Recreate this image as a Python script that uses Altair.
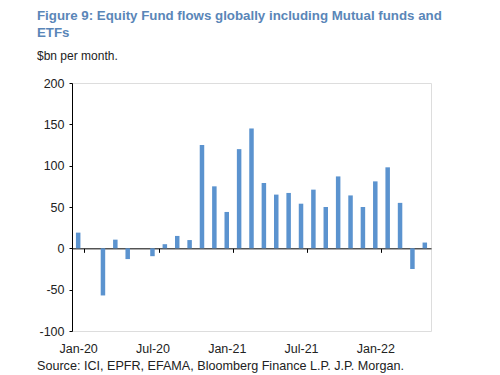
import altair as alt
import pandas as pd

months = ["Jan-20", "Feb-20", "Mar-20", "Apr-20", "May-20", "Jun-20", "Jul-20", "Aug-20",
          "Sep-20", "Oct-20", "Nov-20", "Dec-20", "Jan-21", "Feb-21", "Mar-21", "Apr-21",
          "May-21", "Jun-21", "Jul-21", "Aug-21", "Sep-21", "Oct-21", "Nov-21", "Dec-21",
          "Jan-22", "Feb-22", "Mar-22", "Apr-22", "May-22"]
flows = [19, 0, -57, 10.5, -13, 0, -9.5, 5, 15, 10, 125, 75, 44, 120, 145, 79,
         65, 67, 54, 71, 50, 87, 64, 50, 81, 98, 55, -25, 7]
label_months = ["Jan-20", "Jul-20", "Jan-21", "Jul-21", "Jan-22"]
y_ticks = [-100, -50, 0, 50, 100, 150, 200]

title_lines = ["Figure 9: Equity Fund flows globally including Mutual funds and", "ETFs"]
subtitle = "$bn per month."
source = "Source: ICI, EPFR, EFAMA, Bloomberg Finance L.P. J.P. Morgan."

df = pd.DataFrame({"month": months, "flow": flows})

FONT = "Liberation Sans, Arial, sans-serif"
W, H = 359, 248

bars = alt.Chart(df).mark_bar(size=4.5, color="#5B93CF").encode(
    x=alt.X("month:N", sort=months, scale=alt.Scale(paddingInner=0, paddingOuter=0),
            axis=alt.Axis(values=label_months, title=None, labelAngle=0,
                          domainColor="black", tickColor="black", tickSize=4,
                          tickBand="extent", offset=-(H - H * 200 / 300),
                          labelPadding=90, labelFont=FONT, labelFontSize=12.5,
                          labelColor="#222222")),
    y=alt.Y("flow:Q", scale=alt.Scale(domain=[-100, 200], nice=False),
            axis=alt.Axis(values=y_ticks, title=None, grid=False,
                          labelExpr="datum.value + ''",
                          domainColor="black", tickColor="black", tickSize=3,
                          labelPadding=5, labelFont=FONT, labelFontSize=12.5,
                          labelColor="#222222")),
)

def txt(s, x, y, size, bold=False, color="#222222"):
    return alt.Chart(pd.DataFrame({"t": [s]})).mark_text(
        align="left", baseline="alphabetic", font=FONT, fontSize=size,
        fontWeight="bold" if bold else "normal", color=color, clip=False
    ).encode(text="t:N", x=alt.value(x), y=alt.value(y))

tcol = "#5A86B8"
chart = alt.layer(
    bars,
    txt(title_lines[0], -35, -63, 13.3, True, tcol),
    txt(title_lines[1], -35, -46, 13.3, True, tcol),
    txt(subtitle, -35, -23, 12),
    txt(source, -35, 287, 12.6),
).properties(
    width=W, height=H,
    padding={"left": 72, "top": 83, "right": 69, "bottom": 44},
    autosize=alt.AutoSizeParams(type="none"),
).configure_view(stroke=None).configure(background="white")

chart.save("out.html", embed_options={"renderer": "svg", "actions": False})
